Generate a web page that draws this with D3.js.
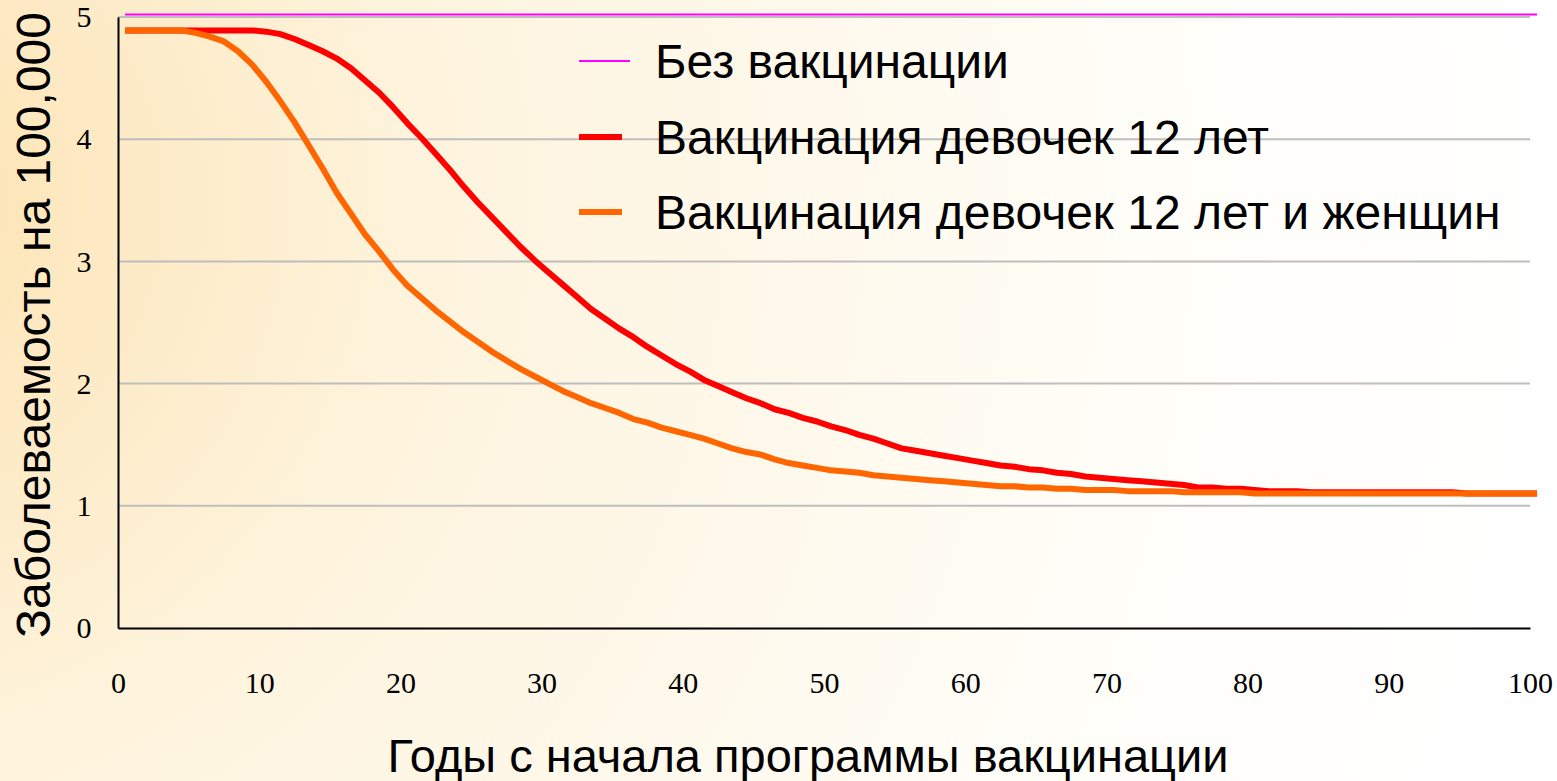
<!DOCTYPE html>
<html><head><meta charset="utf-8">
<script src="https://cdn.jsdelivr.net/npm/d3@7"></script>
<style>html,body{margin:0;padding:0;overflow:hidden;}svg{display:block;}</style>
</head><body>
<script>
// ---- data ----
const years = d3.range(0, 101);
const noVaccination = [5.02, 5.02];           // flat line across the whole range
const girls12 = [
 4.89,4.89,4.89,4.89,4.89,4.89,4.89,4.89,4.89,4.89,
 4.88,4.86,4.82,4.77,4.72,4.66,4.58,4.48,4.38,4.26,
 4.13,4.01,3.88,3.75,3.61,3.48,3.36,3.24,3.12,3.01,
 2.91,2.81,2.71,2.61,2.53,2.45,2.38,2.30,2.23,2.16,
 2.10,2.03,1.98,1.93,1.88,1.84,1.79,1.76,1.72,1.69,
 1.65,1.62,1.58,1.55,1.51,1.47,1.45,1.43,1.41,1.39,
 1.37,1.35,1.33,1.32,1.30,1.29,1.27,1.26,1.24,1.23,
 1.22,1.21,1.20,1.19,1.18,1.17,1.15,1.15,1.14,1.14,
 1.13,1.12,1.12,1.12,1.11,1.11,1.11,1.11,1.11,1.11,
 1.11,1.11,1.11,1.11,1.11,1.10,1.10,1.10,1.10,1.10,
 1.10];
const girlsAndWomen = [
 4.89,4.89,4.89,4.89,4.89,4.87,4.84,4.80,4.72,4.61,
 4.47,4.31,4.14,3.95,3.76,3.56,3.39,3.22,3.08,2.93,
 2.80,2.70,2.60,2.51,2.42,2.34,2.26,2.19,2.12,2.06,
 2.00,1.94,1.89,1.84,1.80,1.76,1.71,1.68,1.64,1.61,
 1.58,1.55,1.51,1.47,1.44,1.42,1.38,1.35,1.33,1.31,
 1.29,1.28,1.27,1.25,1.24,1.23,1.22,1.21,1.20,1.19,
 1.18,1.17,1.16,1.16,1.15,1.15,1.14,1.14,1.13,1.13,
 1.13,1.12,1.12,1.12,1.12,1.11,1.11,1.11,1.11,1.11,
 1.10,1.10,1.10,1.10,1.10,1.10,1.10,1.10,1.10,1.10,
 1.10,1.10,1.10,1.10,1.10,1.10,1.10,1.10,1.10,1.10,
 1.10];
const xTicks = [0,10,20,30,40,50,60,70,80,90,100];
const yTicks = [0,1,2,3,4,5];
const seriesNames = ["Без вакцинации","Вакцинация девочек 12 лет","Вакцинация девочек 12 лет и женщин"];
const yTitle = "Заболеваемость на 100,000";
const xTitle = "Годы с начала программы вакцинации";

// ---- layout ----
const W = 1557, H = 781;
const L = 118, R = 1530, T = 17, B = 628;
const svg = d3.select("body").append("svg").attr("width", W).attr("height", H);

const defs = svg.append("defs");
const grad = defs.append("radialGradient").attr("id","bg")
  .attr("gradientUnits","userSpaceOnUse").attr("cx",-150).attr("cy",200).attr("r",1700);
grad.append("stop").attr("offset","0").attr("stop-color","#FBDDA2");
grad.append("stop").attr("offset","0.12").attr("stop-color","#FDE8C0");
grad.append("stop").attr("offset","0.35").attr("stop-color","#FEF4DE");
grad.append("stop").attr("offset","0.75").attr("stop-color","#FFFDF7");
grad.append("stop").attr("offset","1").attr("stop-color","#FFFFFF");
svg.append("rect").attr("width",W).attr("height",H).attr("fill","url(#bg)");

const x = d3.scaleLinear().domain([0,100]).range([L,R]);
const y = d3.scaleLinear().domain([0,5]).range([B,T]);
const xd = d => x(d + 0.5);   // data points sit half a year to the right

// gridlines
svg.append("g").selectAll("line").data(yTicks.filter(t=>t>0)).join("line")
  .attr("x1",L).attr("x2",R).attr("y1",d=>y(d)).attr("y2",d=>y(d))
  .attr("stroke","#BEBEBE").attr("stroke-width",2);

// axes
const xAxis = svg.append("g").attr("transform",`translate(0,${B})`)
  .call(d3.axisBottom(x).tickValues(xTicks).tickFormat(d3.format("d")).tickSize(0).tickPadding(44));
const yAxis = svg.append("g").attr("transform",`translate(${L},0)`)
  .call(d3.axisLeft(y).tickValues(yTicks).tickFormat(d3.format("d")).tickSize(0).tickPadding(26));
[xAxis,yAxis].forEach(g=>{
  g.attr("font-family","'Liberation Serif', serif").attr("font-size",30);
  g.select(".domain").attr("stroke","#000").attr("stroke-width",2);
  g.selectAll("text").attr("fill","#000");
});
yAxis.selectAll("text").attr("text-anchor","middle").attr("dx",-8);

// lines
const line = d3.line().x((d,i)=>xd(years[i])).y(d=>y(d));
svg.append("line").attr("x1",xd(0)).attr("x2",xd(100))
  .attr("y1",y(noVaccination[0])).attr("y2",y(noVaccination[1]))
  .attr("stroke","#FF00FF").attr("stroke-width",2);
svg.append("path").datum(girls12).attr("d",line).attr("fill","none")
  .attr("stroke","#FF0000").attr("stroke-width",6).attr("stroke-linejoin","round");
svg.append("path").datum(girlsAndWomen).attr("d",line).attr("fill","none")
  .attr("stroke","#FF6600").attr("stroke-width",6).attr("stroke-linejoin","round");

// legend
const legColors = ["#FF00FF","#FF0000","#FF6600"];
const legWidths = [2,6,6];
const legX2 = [630,622,622];
const legY = [61,137,212];
const lg = svg.append("g");
seriesNames.forEach((n,i)=>{
  lg.append("line").attr("x1",579).attr("x2",legX2[i]).attr("y1",legY[i]).attr("y2",legY[i])
    .attr("stroke",legColors[i]).attr("stroke-width",legWidths[i]);
  lg.append("text").attr("x",655).attr("y",legY[i]).attr("dy","0.35em")
    .attr("font-family","'Liberation Sans', Arial, sans-serif").attr("font-size",48)
    .attr("fill","#000").text(n);
});

// titles
svg.append("text").attr("transform","translate(50,325) rotate(-90)")
  .attr("text-anchor","middle").attr("font-family","'Liberation Sans', Arial, sans-serif")
  .attr("font-size",48).attr("fill","#000").text(yTitle);
svg.append("text").attr("x",808).attr("y",772).attr("text-anchor","middle")
  .attr("font-family","'Liberation Sans', Arial, sans-serif")
  .attr("font-size",47).attr("fill","#000").text(xTitle);
</script>
</body></html>
